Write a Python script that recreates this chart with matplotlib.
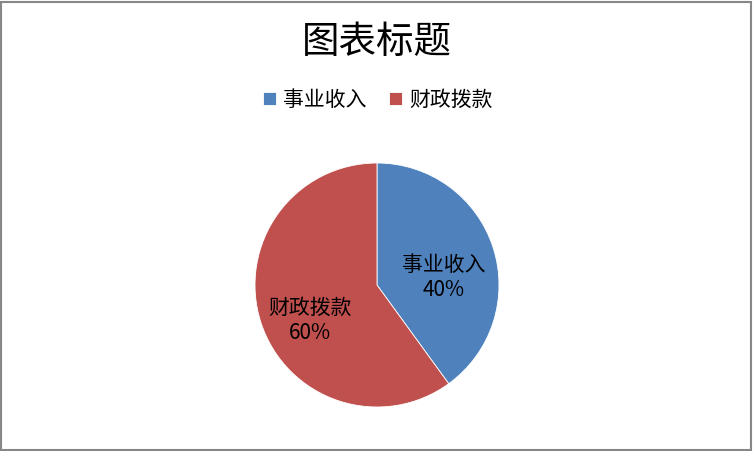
import matplotlib
matplotlib.use("Agg")
import matplotlib.pyplot as plt
from matplotlib.patches import Rectangle

plt.rcParams['font.family'] = ['Noto Sans CJK SC', 'DejaVu Sans']

title = "图表标题"
categories = ["事业收入", "财政拨款"]
values = [40, 60]
colors = ["#4F81BD", "#C0504D"]

W, H = 753, 451
fig = plt.figure(figsize=(W / 100, H / 100), dpi=100)

# pie centre ~ (377, 285) px, radius ~122 px
cx, cy, r = 377, 285, 122
ax = fig.add_axes([(cx - r) / W, (H - cy - r) / H, 2 * r / W, 2 * r / H])
wedges, _ = ax.pie(values, colors=colors, startangle=90, counterclock=False,
                   radius=1, wedgeprops=dict(edgecolor="white", linewidth=0.6))
ax.set_xlim(-1, 1)
ax.set_ylim(-1, 1)
ax.set_aspect("equal")
ax.axis("off")

# data labels (positions picked to match the reference)
label_pos = [(0.55, 0.06), (-0.55, -0.29)]
total = sum(values)
for cat, v, (lx, ly) in zip(categories, values, label_pos):
    ax.text(lx, ly, f"{cat}\n{v / total:.0%}", ha="center", va="center",
            fontsize=15, linespacing=1.15, color="black")

fig.text(0.5, 1 - 42 / H, title, ha="center", va="center", fontsize=27)

fig.legend(wedges, categories, loc="center", bbox_to_anchor=(0.502, 1 - 100 / H),
           ncol=2, frameon=False, fontsize=15, handlelength=0.6, handleheight=0.6,
           handletextpad=0.35, columnspacing=1.1)

fig.patches.append(Rectangle((0.5 / W, 1.5 / H), 750.5 / W, 448 / H,
                             transform=fig.transFigure, fill=False,
                             edgecolor="#878787", linewidth=1.5))

fig.savefig("out.png", dpi=100)
